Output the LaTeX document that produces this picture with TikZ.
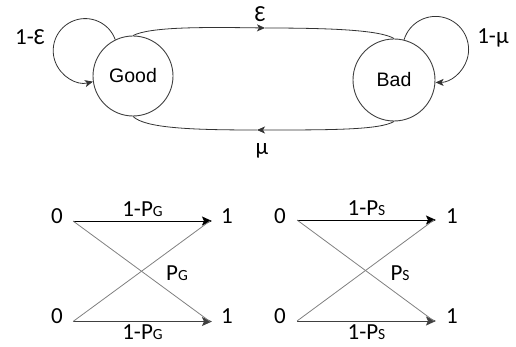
\documentclass[tikz,border=0pt]{standalone}
\usepackage{fontspec}
\setmainfont{Carlito}
\newfontfamily\arialfont{Liberation Sans}
\usepackage{tikz}
\usetikzlibrary{arrows.meta, positioning, calc}
\newcommand{\smallcap}[1]{{\fontsize{15.5}{15.5}\selectfont #1}}
\tikzset{
    state/.style={circle, draw=black!75, line width=0.9pt, minimum size=80pt, inner sep=0pt, font=\arialfont\fontsize{19.5}{19.5}\selectfont},
    lbl/.style={font=\fontsize{23}{23}\selectfont, inner sep=0pt},
    bit/.style={font=\fontsize{23}{23}\selectfont, inner sep=0pt, anchor=base},
    flow/.style={draw=black!80, line width=0.8pt},
    flowarrow/.style={flow, -{Stealth[length=8pt, width=7pt, inset=2pt]}},
    chan/.style={line width=0.9pt, -{Stealth[length=10pt, width=9pt, inset=2pt]}},
    cross/.style={line width=0.8pt, draw=black!50},
}

\begin{document}
\begin{tikzpicture}[x=1pt, y=1pt]
\useasboundingbox (0,0) rectangle (516,-347);

% Gilbert-Elliott states
\node[state] (good) at (133,-76) {Good};
\node[state, minimum size=82pt] (bad) at (394,-80) {Bad};

% Self loops
\draw[flowarrow] (good.116) arc[start angle=20, end angle=284, radius=32];
\draw[flowarrow] (bad.76) arc[start angle=163, end angle=-90, radius=33];

% Transitions between states
\coordinate (epstip) at (265,-28);
\coordinate (mutip) at (257,-130);
\draw[flowarrow] (good.north) .. controls (150,-27) and (200,-27) .. (epstip);
\draw[flow] (epstip) .. controls (330,-28) and (380,-30) .. (bad.north);
\draw[flowarrow] (bad.south) .. controls (380,-130) and (330,-130) .. (mutip);
\draw[flow] (mutip) .. controls (190,-130) and (145,-128) .. (good.south);

% Transition labels
\node[lbl] (pgg) at (30,-37) {1-Ɛ};
\node[lbl] (pbb) at (493,-38) {1-μ};
\node[lbl] (pgb) at (260,-14) {Ɛ};
\node[lbl] (pbg) at (262,-151) {μ};

% Channel in the good state
\node[bit] (g0t) at (57,-223) {0};
\node[bit] (g0b) at (57,-323) {0};
\node[bit] (g1t) at (227,-223) {1};
\node[bit] (g1b) at (227,-323) {1};

\draw[chan] ([shift={(10,2)}]g0t.base east) -- node[lbl, above=4pt] (gkt) {1-P\smallcap{G}} ([shift={(-9,2)}]g1t.base west);
\draw[chan, draw=black!75] ([shift={(10,1.5)}]g0b.base east) -- node[lbl, below=3pt] (gkb) {1-P\smallcap{G}} ([shift={(-9,1.5)}]g1b.base west);
\draw[cross] ([shift={(10,2)}]g0t.base east) -- ([shift={(-11,1.5)}]g1b.base west);
\draw[cross] ([shift={(10,1.5)}]g0b.base east) -- ([shift={(-11,2)}]g1t.base west);
\node[lbl] (gflip) at (177,-273) {P\smallcap{G}};

% Channel in the bad state
\node[bit] (s0t) at (280,-223) {0};
\node[bit] (s0b) at (280,-323) {0};
\node[bit] (s1t) at (452,-223) {1};
\node[bit] (s1b) at (452,-323) {1};

\draw[chan] ([shift={(11,3)}]s0t.base east) -- node[lbl, above=4pt] (skt) {1-P\smallcap{S}} ([shift={(-10,3)}]s1t.base west);
\draw[chan, draw=black!75] ([shift={(11,2)}]s0b.base east) -- node[lbl, below=3pt] (skb) {1-P\smallcap{S}} ([shift={(-10,2)}]s1b.base west);
\draw[cross] ([shift={(11,3)}]s0t.base east) -- ([shift={(-12,2)}]s1b.base west);
\draw[cross] ([shift={(11,2)}]s0b.base east) -- ([shift={(-12,3)}]s1t.base west);
\node[lbl] (sflip) at (400,-273) {P\smallcap{S}};

\end{tikzpicture}
\end{document}
